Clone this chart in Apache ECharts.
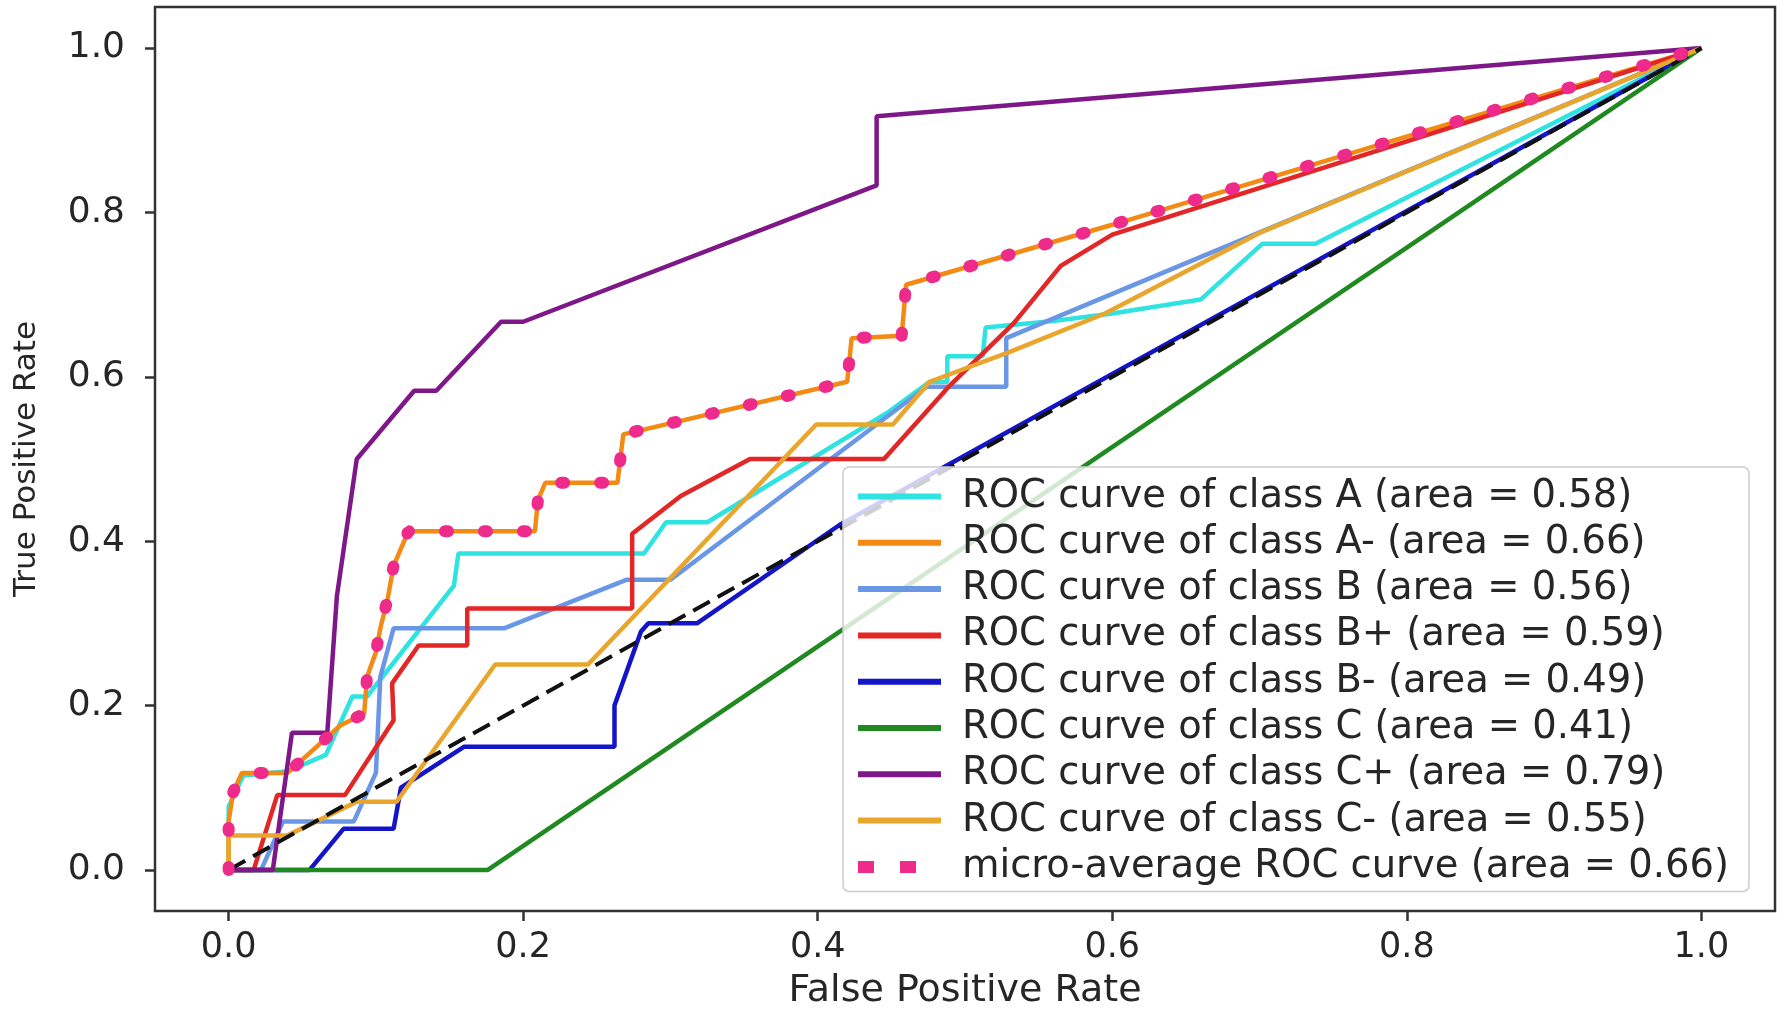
<!DOCTYPE html>
<html>
<head>
<meta charset="utf-8">
<script src="https://cdn.jsdelivr.net/npm/echarts@6/dist/echarts.min.js"></script>
<style>
html,body{margin:0;padding:0;background:#fff;}
#chart{width:1784px;height:1018px;}
</style>
</head>
<body>
<div id="chart"></div>
<script>
// ---- data ----
const classNames = ['A', 'A-', 'B', 'B+', 'B-', 'C', 'C+', 'C-'];
const classAreas = [0.58, 0.66, 0.56, 0.59, 0.49, 0.41, 0.79, 0.55];
const microArea = 0.66;
const tickValues = [0, 0.2, 0.4, 0.6, 0.8, 1.0];

const rocA = [[0,0],[0,0.077],[0.01,0.115],[0.04,0.12],[0.066,0.14],[0.084,0.211],[0.094,0.211],[0.153,0.346],[0.156,0.385],[0.282,0.385],[0.297,0.423],[0.325,0.423],[0.447,0.556],[0.476,0.594],[0.488,0.594],[0.488,0.625],[0.512,0.625],[0.514,0.66],[0.56,0.668],[0.6,0.677],[0.66,0.694],[0.702,0.762],[0.738,0.762],[1,1]];
const rocAminus = [[0,0],[0,0.059],[0.003,0.094],[0.009,0.118],[0.04,0.118],[0.076,0.176],[0.092,0.19],[0.094,0.235],[0.1,0.265],[0.103,0.294],[0.108,0.33],[0.112,0.37],[0.122,0.412],[0.208,0.412],[0.21,0.45],[0.215,0.471],[0.264,0.471],[0.268,0.53],[0.42,0.594],[0.423,0.647],[0.457,0.65],[0.46,0.712],[0.6,0.785],[1,1]];
const rocB = [[0,0],[0.022,0],[0.037,0.059],[0.085,0.059],[0.1,0.118],[0.103,0.235],[0.112,0.294],[0.187,0.294],[0.27,0.353],[0.3,0.353],[0.474,0.588],[0.528,0.588],[0.528,0.647],[1,1]];
const rocBplus = [[0,0],[0.017,0],[0.033,0.091],[0.079,0.091],[0.112,0.182],[0.111,0.227],[0.129,0.273],[0.162,0.273],[0.162,0.318],[0.274,0.318],[0.274,0.409],[0.307,0.455],[0.354,0.5],[0.445,0.5],[0.49,0.59],[0.533,0.665],[0.565,0.735],[0.6,0.773],[1,1]];
const rocBminus = [[0,0],[0.055,0],[0.078,0.05],[0.112,0.05],[0.117,0.1],[0.16,0.15],[0.262,0.15],[0.262,0.2],[0.28,0.29],[0.285,0.3],[0.318,0.3],[0.415,0.42],[1,1]];
const rocC = [[0,0],[0.176,0],[1,1]];
const rocCplus = [[0,0],[0.03,0],[0.043,0.167],[0.067,0.167],[0.0735,0.333],[0.087,0.5],[0.126,0.583],[0.141,0.583],[0.185,0.667],[0.2,0.667],[0.44,0.833],[0.44,0.917],[1,1]];
const rocCminus = [[0,0],[0,0.042],[0.04,0.042],[0.087,0.083],[0.114,0.083],[0.181,0.25],[0.244,0.25],[0.399,0.542],[0.451,0.542],[0.476,0.594],[0.53,0.63],[0.595,0.677],[0.7,0.775],[1,1]];
const rocMicro = [[0,0],[0,0.059],[0.003,0.094],[0.009,0.118],[0.04,0.118],[0.076,0.176],[0.092,0.19],[0.094,0.235],[0.1,0.265],[0.103,0.294],[0.108,0.33],[0.112,0.37],[0.122,0.412],[0.208,0.412],[0.21,0.45],[0.215,0.471],[0.264,0.471],[0.268,0.53],[0.42,0.594],[0.423,0.647],[0.457,0.65],[0.46,0.712],[0.6,0.785],[1,1]];
const chanceLine = [[0,0],[1,1]];

const classCurves = [rocA, rocAminus, rocB, rocBplus, rocBminus, rocC, rocCplus, rocCminus];
const classColors = ['#2fe3e0', '#f28a14', '#6a96e6', '#e32626', '#1414c8', '#208a20', '#7e1888', '#eaa62c'];
const microColor = '#ee2a8a';

// ---- build options ----
const fmt = v => Number(v).toFixed(2);
const seriesList = [];
const legendData = [];
classNames.forEach((c, i) => {
  const name = 'ROC curve of class ' + c + ' (area = ' + fmt(classAreas[i]) + ')';
  legendData.push(name);
  seriesList.push({
    name: name, type: 'line', data: classCurves[i], symbol: 'none', smooth: false,
    lineStyle: {color: classColors[i], width: 4.5}, itemStyle: {color: classColors[i]},
    emphasis: {disabled: true}, animation: false
  });
});
seriesList.push({
  name: 'chance', type: 'line', data: chanceLine, symbol: 'none',
  lineStyle: {color: '#111', width: 4, type: [19, 9]}, itemStyle: {color: '#111'},
  emphasis: {disabled: true}, animation: false
});
const microName = 'micro-average ROC curve (area = ' + fmt(microArea) + ')';
legendData.push({name: microName, lineStyle: {type: [16, 26], cap: 'butt', width: 12}});
seriesList.push({
  name: microName, type: 'line', data: rocMicro, symbol: 'none',
  lineStyle: {color: microColor, width: 12, type: [3, 36], cap: 'round'}, itemStyle: {color: microColor},
  emphasis: {disabled: true}, animation: false
});

const txt = '#262626';
const option = {
  backgroundColor: '#ffffff',
  animation: false,
  textStyle: {fontFamily: 'DejaVu Sans', color: txt},
  grid: {left: 155, right: 9, top: 7, bottom: 107, show: true, borderColor: '#333', borderWidth: 2.5, backgroundColor: 'transparent'},
  xAxis: {
    type: 'value', min: -0.05, max: 1.05,
    name: 'False Positive Rate', nameLocation: 'middle', nameGap: 61,
    nameTextStyle: {fontSize: 38, color: txt, fontFamily: 'DejaVu Sans'},
    axisLine: {show: false, onZero: false},
    axisTick: {show: true, length: 10, lineStyle: {color: '#333', width: 2.5}, customValues: tickValues},
    axisLabel: {fontSize: 35, color: txt, margin: 19, customValues: tickValues, formatter: v => Number(v).toFixed(1)},
    splitLine: {show: false}
  },
  yAxis: {
    type: 'value', min: -0.05, max: 1.05,
    name: 'True Positive Rate', nameLocation: 'middle', nameGap: 113,
    nameTextStyle: {fontSize: 31, color: txt, fontFamily: 'DejaVu Sans'},
    axisLine: {show: false, onZero: false},
    axisTick: {show: true, length: 10, lineStyle: {color: '#333', width: 2.5}, customValues: tickValues},
    axisLabel: {fontSize: 36, color: txt, margin: 30, customValues: tickValues, formatter: v => Number(v).toFixed(1)},
    splitLine: {show: false}
  },
  legend: {
    show: true, orient: 'vertical', left: 843, top: 467,
    data: legendData,
    itemWidth: 83, itemHeight: 14, itemGap: 7.3,
    padding: [10, 20, 5, 9],
    itemStyle: {color: 'rgba(0,0,0,0)', borderColor: 'rgba(0,0,0,0)', borderWidth: 0, opacity: 0},
    lineStyle: {width: 6},
    backgroundColor: 'rgba(255,255,255,0.8)', borderColor: '#cccccc', borderWidth: 1.5, borderRadius: 6,
    textStyle: {fontSize: 38.5, lineHeight: 38, color: txt, fontFamily: 'DejaVu Sans', padding: [0, 0, 0, 16]},
    selectedMode: false
  },
  series: seriesList
};
const chart = echarts.init(document.getElementById('chart'), null, {renderer: 'canvas'});
chart.setOption(option);
</script>
</body>
</html>
